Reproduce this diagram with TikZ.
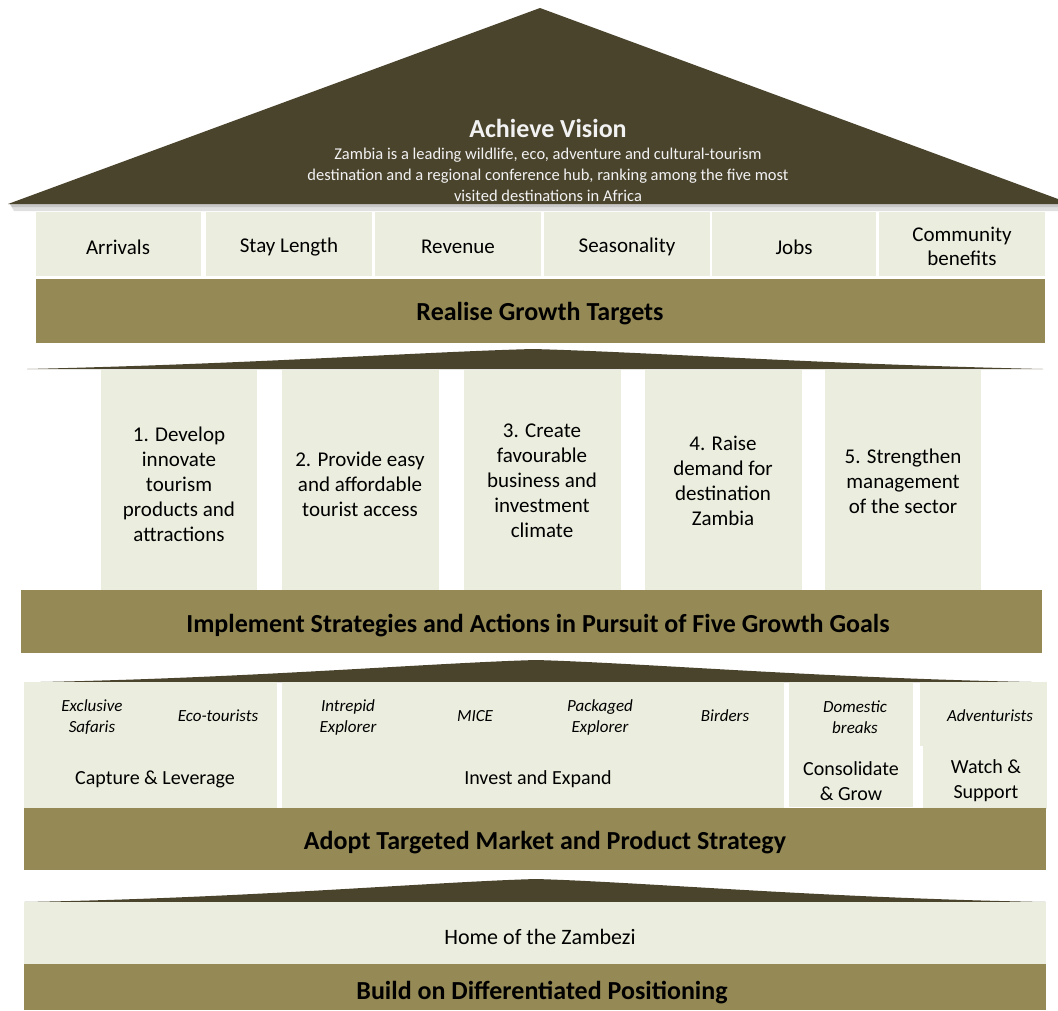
\documentclass[tikz,border=0pt]{standalone}
\usepackage{fontspec}
\setmainfont{Carlito}
\definecolor{roof}{HTML}{4A442D}
\definecolor{band}{HTML}{958A55}
\definecolor{cell}{HTML}{EBEEDE}
\definecolor{vis}{HTML}{F2F2F2}
\begin{document}
\begin{tikzpicture}[x=1pt,y=-1pt,
  cellbox/.style={fill=cell, draw=none, inner sep=0pt, outer sep=0pt, anchor=north west, align=center},
  bandbox/.style={fill=band, draw=none, inner sep=0pt, outer sep=0pt, anchor=north west},
  bandtext/.style={font=\bfseries\fontsize{26}{30}\selectfont, inner sep=0pt},
  roofshape/.style={fill=roof, draw=none},
  metric/.style={font=\fontsize{21}{24}\selectfont, align=center, inner sep=0pt},
  goal/.style={font=\fontsize{21}{25}\selectfont, align=center, inner sep=0pt},
  seg/.style={font=\itshape\fontsize{17}{21}\selectfont, align=center, inner sep=0pt},
  strat/.style={font=\fontsize{20}{25}\selectfont, align=center, inner sep=0pt}]
\useasboundingbox (0,0) rectangle (1058,1010);
\fill[white] (0,0) rectangle (1058,1010);

% ---------- top roof ----------
\fill[black!12] (10,204) -- (1058,204) -- (1058,211) -- (14,211) -- cycle;
\fill[black!22] (10,204) -- (1058,204) -- (1058,207) -- (12,207) -- cycle;
\path[roofshape] (8,204) -- (540,8) -- (1058,199) -- (1058,204) -- cycle;
\node[text=vis, font=\bfseries\fontsize{26}{30}\selectfont, inner sep=0pt] (vtitle) at (548,128) {Achieve Vision};
\node[text=vis, font=\fontsize{16.5}{21}\selectfont, align=center, inner sep=0pt] (vtext) at (548,175)
  {Zambia is a leading wildlife, eco, adventure and cultural-tourism\\
   destination and a regional conference hub, ranking among the five most\\
   visited destinations in Africa};

% ---------- metrics ----------
\node[cellbox, minimum width=165pt, minimum height=64pt] (m1) at (36,212) {};
\node[cellbox, minimum width=166pt, minimum height=64pt] (m2) at (206,212) {};
\node[cellbox, minimum width=166pt, minimum height=64pt] (m3) at (375,212) {};
\node[cellbox, minimum width=166pt, minimum height=64pt] (m4) at (544,212) {};
\node[cellbox, minimum width=164pt, minimum height=64pt] (m5) at (712,212) {};
\node[cellbox, minimum width=166pt, minimum height=64pt] (m6) at (879,212) {};
\node[metric] (mt1) at (118,247) {Arrivals};
\node[metric] (mt2) at (289,247) {Stay Length};
\node[metric] (mt3) at (458,247) {Revenue};
\node[metric] (mt4) at (627,247) {Seasonality};
\node[metric] (mt5) at (794,247) {Jobs};
\node[metric] (mt6) at (962,246) {Community\\benefits};
\node[bandbox, minimum width=1009pt, minimum height=64pt] (b1) at (36,279) {};
\node[bandtext] (bt1) at (540,314) {Realise Growth Targets};

% ---------- roof 2 ----------
\path[roofshape] (27,369) .. controls (250,364) and (420,352) .. (533,349)
   .. controls (646,352) and (816,364) .. (1043,369) -- cycle;

% ---------- goals ----------
\node[cellbox, minimum width=156pt, minimum height=220pt] (g1) at (101,370) {};
\node[cellbox, minimum width=157pt, minimum height=220pt] (g2) at (282,370) {};
\node[cellbox, minimum width=157pt, minimum height=220pt] (g3) at (464,370) {};
\node[cellbox, minimum width=157pt, minimum height=220pt] (g4) at (645,370) {};
\node[cellbox, minimum width=156pt, minimum height=220pt] (g5) at (825,370) {};
\node[goal] (gt1) at (179,484) {1. Develop\\innovate\\tourism\\products and\\attractions};
\node[goal] (gt2) at (360,484) {2. Provide easy\\and affordable\\tourist access};
\node[goal] (gt3) at (542,481) {3. Create\\favourable\\business and\\investment\\climate};
\node[goal] (gt4) at (723,481) {4. Raise\\demand for\\destination\\Zambia};
\node[goal] (gt5) at (903,481) {5. Strengthen\\management\\of the sector};
\node[bandbox, minimum width=1021pt, minimum height=63pt] (b2) at (21,590) {};
\node[bandtext] (bt2) at (538,626) {Implement Strategies and Actions in Pursuit of Five Growth Goals};

% ---------- roof 3 ----------
\path[roofshape] (40,682) .. controls (250,678) and (430,663) .. (536,660)
   .. controls (642,663) and (822,678) .. (1032,682) -- cycle;

% ---------- market segments ----------
\node[cellbox, minimum width=253pt, minimum height=126pt] (s1) at (24,682) {};
\node[cellbox, minimum width=502pt, minimum height=126pt] (s2) at (282,682) {};
\node[cellbox, minimum width=124pt, minimum height=125pt] (s3) at (789,682) {};
\node[cellbox, minimum width=127pt, minimum height=64pt] (s4a) at (920,682) {};
\node[cellbox, minimum width=124pt, minimum height=63pt] (s4b) at (923,746) {};

\node[seg] (t1) at (92,717) {Exclusive\\Safaris};
\node[seg] (t2) at (218,716) {Eco-tourists};
\node[seg] (t3) at (348,717) {Intrepid\\Explorer};
\node[seg] (t4) at (475,716) {MICE};
\node[seg] (t5) at (600,717) {Packaged\\Explorer};
\node[seg] (t6) at (725,716) {Birders};
\node[seg] (t7) at (855,717) {Domestic\\breaks};
\node[seg] (t8) at (990,716) {Adventurists};

\node[strat] (c1) at (155,779) {Capture \& Leverage};
\node[strat] (c2) at (538,779) {Invest and Expand};
\node[strat] (c3) at (851,781) {Consolidate\\\& Grow};
\node[strat] (c4) at (986,781) {Watch \&\\Support};

\node[bandbox, minimum width=1022pt, minimum height=62pt] (b3) at (24,808) {};
\node[bandtext] (bt3) at (545,843) {Adopt Targeted Market and Product Strategy};

% ---------- roof 4 ----------
\path[roofshape] (24,902) .. controls (250,898) and (430,882) .. (536,879)
   .. controls (642,882) and (822,898) .. (1046,902) -- cycle;

% ---------- positioning ----------
\node[cellbox, minimum width=1022pt, minimum height=62pt] (h1) at (24,902) {};
\node[font=\fontsize{22}{26}\selectfont, inner sep=0pt] (ht1) at (540,937) {Home of the Zambezi};
\node[bandbox, minimum width=1022pt, minimum height=46pt] (b4) at (24,964) {};
\node[bandtext] (bt4) at (542,993) {Build on Differentiated Positioning};
\end{tikzpicture}
\end{document}
